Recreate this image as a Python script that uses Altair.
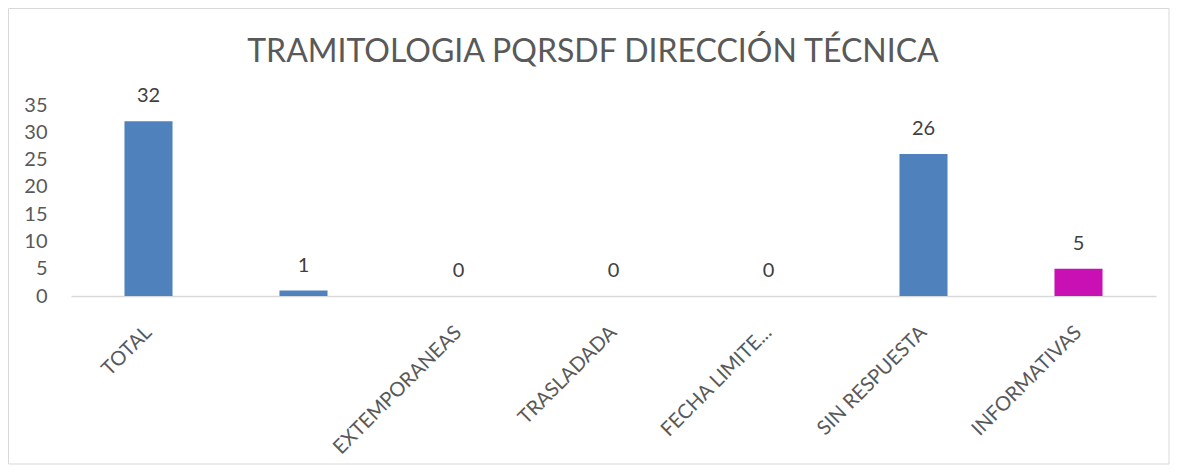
import altair as alt
import pandas as pd

categories = ["TOTAL", "", "EXTEMPORANEAS", "TRASLADADA", "FECHA LIMITE...", "SIN RESPUESTA", "INFORMATIVAS"]
values = [32, 1, 0, 0, 0, 26, 5]
colors = ["#4F81BD", "#4F81BD", "#4F81BD", "#4F81BD", "#4F81BD", "#4F81BD", "#C910B4"]
y_ticks = [0, 5, 10, 15, 20, 25, 30, 35]
title_text = "TRAMITOLOGIA PQRSDF DIRECCIÓN TÉCNICA"

df = pd.DataFrame({"cat": categories, "val": values, "color": colors})

FONT = "Lato"
W, H = 1085, 191

x_enc = alt.X("cat:N", sort=categories, title=None,
              scale=alt.Scale(paddingInner=0.69, paddingOuter=0.345),
              axis=alt.Axis(labelAngle=-45, labelAlign="right", labelBaseline="middle",
                            labelPadding=33, ticks=False, domainColor="#d9d9d9",
                            domainWidth=1.5, labelFont=FONT, labelFontSize=20,
                            labelColor="#595959", labelLimit=300, labelOverlap=False))
y_enc = alt.Y("val:Q", title=None,
              scale=alt.Scale(domain=[0, 35], nice=False),
              axis=alt.Axis(values=y_ticks, grid=False, domain=False,
                            ticks=False, labelPadding=24, labelFont=FONT, labelFontSize=20,
                            labelColor="#595959", labelOverlap=False))

base = alt.Chart(df)
bars = base.mark_bar().encode(x=x_enc, y=y_enc, color=alt.Color("color:N", scale=None))
labels = base.mark_text(baseline="bottom", dy=-15, font=FONT, fontSize=20, color="#404040").encode(
    x=x_enc, y=y_enc, text="val:Q")
deco = pd.DataFrame({"t": [title_text]})
border = alt.Chart(deco).mark_rect(fill=None, stroke="#d9d9d9", strokeWidth=1).encode(
    x=alt.value(-62.5), x2=alt.value(W + 13), y=alt.value(-96.5), y2=alt.value(H + 168))
title = alt.Chart(deco).mark_text(font=FONT, fontSize=32, color="#595959", baseline="middle").encode(
    x=alt.value(522), y=alt.value(-53), text="t:N")

chart = alt.layer(bars, labels, border, title).properties(
    width=W, height=H,
    autosize=alt.AutoSizeParams(type="none"),
    padding={"left": 63, "top": 97, "right": 14, "bottom": 170},
).configure_view(stroke=None)

chart.save("out.html", embed_options={"renderer": "svg", "actions": False})
